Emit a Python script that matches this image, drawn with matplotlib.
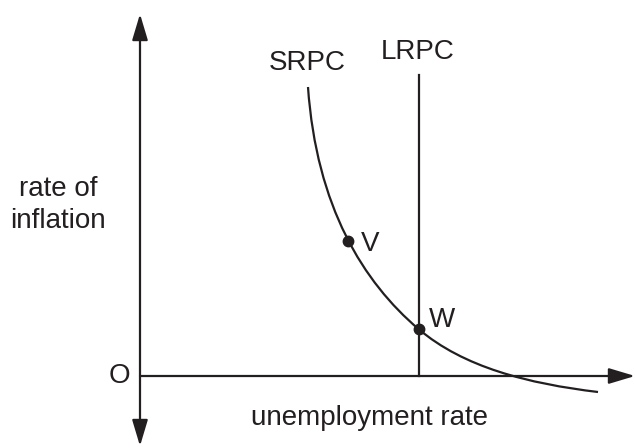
import matplotlib.pyplot as plt
from matplotlib.path import Path
from matplotlib.patches import PathPatch

# SRPC curve: knots and Bezier handles
srpc_x = [3.36, 3.528, 4.47, 5.57, 6.47, 7.76, 9.16]
srpc_y = [5.78, 3.38, 1.875, 0.94, 0.175, -0.152, -0.32]

lrpc_x = 5.57
lrpc_top = 6.02

points = ['V', 'W']
points_x = [4.15, 5.57]
points_y = [2.70, 0.94]

ink = '#231f20'
plt.rcParams['font.family'] = ['Liberation Sans', 'DejaVu Sans']

fig = plt.figure(figsize=(6.35, 4.48), dpi=100)
ax = fig.add_axes([0, 0, 1, 1])
ax.set_xlim(-2.8, 9.9)
ax.set_ylim(-1.44, 7.52)
ax.axis('off')

arrow = dict(arrowstyle='-|>,head_length=0.8,head_width=0.24', color=ink,
             lw=1.6, shrinkA=0, shrinkB=0, mutation_scale=20)
darrow = dict(arrow, arrowstyle='<|-|>,head_length=0.8,head_width=0.24')
ax.annotate('', xy=(0, 7.24), xytext=(0, -1.4), arrowprops=darrow)
ax.annotate('', xy=(9.9, 0), xytext=(0, 0), arrowprops=arrow)

codes = [Path.MOVETO] + [Path.CURVE4] * 6
curve = Path(list(zip(srpc_x, srpc_y)), codes)
ax.add_patch(PathPatch(curve, fill=False, edgecolor=ink, lw=1.6))
ax.plot([lrpc_x, lrpc_x], [0, lrpc_top], color=ink, lw=1.6)
ax.plot(points_x, points_y, 'o', color=ink, ms=7.5, zorder=3)

fs = 20
ax.text(3.34, 6.26, 'SRPC', fontsize=fs, color=ink, ha='center', va='center')
ax.text(5.56, 6.48, 'LRPC', fontsize=fs, color=ink, ha='center', va='center')
ax.text(4.42, 2.64, 'V', fontsize=fs, color=ink, ha='left', va='center')
ax.text(5.78, 1.12, 'W', fontsize=fs, color=ink, ha='left', va='center')
ax.text(-0.42, 0.0, 'O', fontsize=fs, color=ink, ha='center', va='center')
ax.text(-1.64, 3.42, 'rate of\ninflation', fontsize=fs, color=ink,
        ha='center', va='center', linespacing=1.25)
ax.text(4.6, -0.84, 'unemployment rate', fontsize=fs, color=ink,
        ha='center', va='center')

fig.savefig('out.png', dpi=100)
